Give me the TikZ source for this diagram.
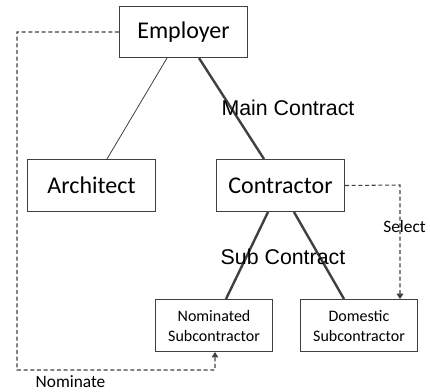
\documentclass[tikz,border=0pt]{standalone}
\usepackage{fontspec}
\setmainfont{Carlito}
\newfontfamily\arialf{Liberation Sans}
\usetikzlibrary{arrows.meta}
\definecolor{edge}{HTML}{404040}
\begin{document}
\begin{tikzpicture}[x=0.75pt,y=-0.75pt,
  box/.style={draw=edge,line width=0.8pt,fill=white,inner sep=0pt,anchor=north west},
  thinline/.style={draw=edge,line width=0.6pt},
  thickline/.style={draw=edge,line width=1.8pt},
  dashline/.style={draw=edge,line width=0.8pt,dash pattern=on 3pt off 2pt},
  tip/.style={-{Triangle[length=4pt,width=5pt]}},
  lbl/.style={font=\arialf\fontsize{16}{19}\selectfont,text=black,inner sep=0pt}]
\useasboundingbox (0,0) rectangle (430,392);
\node[box,minimum width=96pt,minimum height=38.25pt,font=\fontsize{18}{22}\selectfont] (emp) at (119,6) {Employer};
\node[box,minimum width=96pt,minimum height=39pt,font=\fontsize{18}{22}\selectfont] (arc) at (27,159) {Architect};
\node[box,minimum width=96pt,minimum height=39pt,font=\fontsize{18}{22}\selectfont] (con) at (216,159) {Contractor};
\node[box,minimum width=87.75pt,minimum height=39pt,align=center,font=\fontsize{12}{15}\selectfont] (nom) at (155,299) {Nominated\\Subcontractor};
\node[box,minimum width=87.75pt,minimum height=39pt,align=center,font=\fontsize{12}{15}\selectfont] (dom) at (300,299) {Domestic\\Subcontractor};
% solid connectors
\draw[thinline] (emp.south -| 167,0) -- (arc.north -| 107,0);
\draw[thickline] (emp.south -| 199,0) -- (con.north -| 264,0);
\draw[thickline] (con.south -| 268,0) -- (nom.north -| 226,0);
\draw[thickline] (con.south -| 294,0) -- (dom.north -| 344,0);
% labels
\node[lbl] (mc) at (288,108) {Main Contract};
\node[lbl] (sc) at (283,257) {Sub Contract};
% dashed connectors
\coordinate (a1) at (17,32);
\coordinate (a2) at (17,370);
\coordinate (a3) at (215,370);
\draw[dashline,tip] (emp.west) -- (a1) -- (a2) -- (a3) -- (nom.south -| a3);
\coordinate (b1) at (400,185);
\draw[dashline,tip] (con.east) -- (b1) -- (dom.north -| b1);
\node[font=\fontsize{13}{16}\selectfont,inner sep=0pt] (sel) at (404.5,227) {Select};
\node[font=\fontsize{13}{16}\selectfont,inner sep=0pt] (nmt) at (70.5,382) {Nominate};
\end{tikzpicture}
\end{document}
